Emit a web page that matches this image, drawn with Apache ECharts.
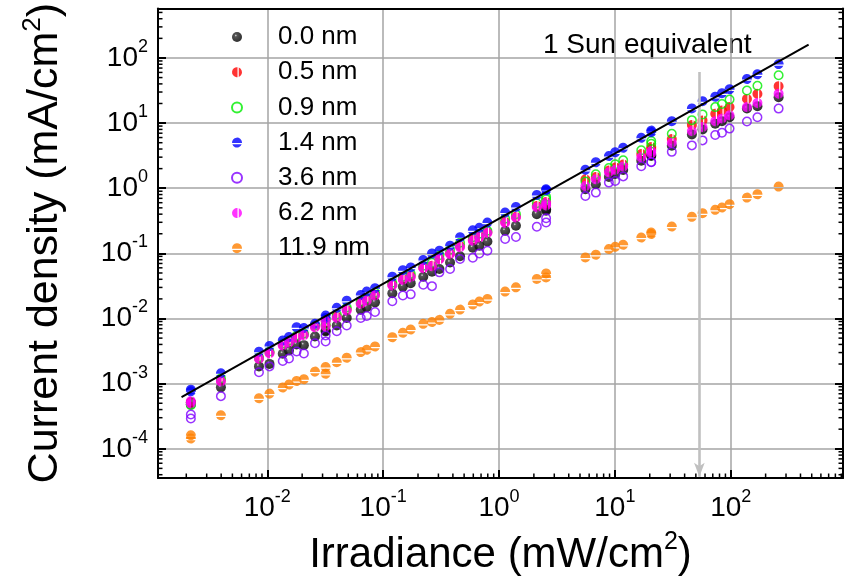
<!DOCTYPE html>
<html><head><meta charset="utf-8">
<script src="https://cdn.jsdelivr.net/npm/echarts@6/dist/echarts.min.js"></script>
<style>html,body{margin:0;padding:0;background:#fff}#c{width:850px;height:585px}</style>
</head><body><div id="c"></div>
<script>
// Irradiance (mW/cm2), shared by all samples
const irradiance = [0.00219, 0.00219, 0.00398, 0.00848, 0.01045, 0.0136, 0.0154, 0.0179, 0.0207, 0.0258,
  0.0319, 0.0319, 0.0398, 0.0485, 0.0641, 0.0722, 0.0851, 0.120, 0.148, 0.173,
  0.222, 0.264, 0.306, 0.378, 0.461, 0.594, 0.677, 0.794, 1.13, 1.40,
  2.12, 2.55, 2.55, 5.57, 6.85, 8.88, 10.07, 11.8, 16.9, 20.6,
  20.6, 31.0, 46.2, 57.1, 73.5, 84.0, 97.7, 138, 170, 259];
// Current density (mA/cm2)
const j00 = [5.17e-4, 4.82e-4, 8.77e-4, 1.84e-3, 2.01e-3, 2.88e-3, 3.24e-3, 3.99e-3, 3.90e-3, 5.30e-3,
  6.55e-3, 6.31e-3, 7.80e-3, 1.02e-2, 1.36e-2, 1.49e-2, 1.77e-2, 2.44e-2, 3.09e-2, 3.49e-2,
  4.39e-2, 5.24e-2, 5.75e-2, 7.26e-2, 9.04e-2, 0.122, 0.131, 0.152, 0.222, 0.265,
  0.400, 0.450, 0.477, 0.965, 1.15, 1.49, 1.66, 1.91, 2.65, 3.12,
  3.24, 4.50, 6.71, 8.00, 9.75, 10.7, 12.3, 16.8, 18.2, 25.0];
const j05 = [5.17e-4, 4.99e-4, 1.12e-3, 2.44e-3, 3.01e-3, 3.99e-3, 4.44e-3, 5.20e-3, 5.68e-3, 7.53e-3,
  9.31e-3, 7.80e-3, 1.07e-2, 1.37e-2, 1.72e-2, 1.95e-2, 2.33e-2, 3.31e-2, 4.02e-2, 4.47e-2,
  6.03e-2, 6.47e-2, 8.27e-2, 0.100, 0.129, 0.162, 0.180, 0.211, 0.305, 0.364,
  0.536, 0.575, 0.617, 1.37, 1.49, 1.87, 2.08, 2.31, 3.35, 4.00,
  4.29, 5.68, 9.31, 11.0, 13.9, 15.6, 17.6, 23.5, 28.1, 36.8];
const j09 = [4.65e-4, 4.82e-4, 1.21e-3, 2.53e-3, 3.12e-3, 4.14e-3, 4.60e-3, 5.48e-3, 5.89e-3, 7.80e-3,
  9.64e-3, 8.09e-3, 1.15e-2, 1.47e-2, 1.82e-2, 2.02e-2, 2.50e-2, 3.55e-2, 4.39e-2, 4.88e-2,
  6.47e-2, 7.19e-2, 9.36e-2, 0.114, 0.146, 0.177, 0.200, 0.222, 0.339, 0.400,
  0.589, 0.679, 0.736, 1.27, 1.64, 2.05, 2.33, 2.69, 3.82, 4.82,
  5.30, 6.85, 11.1, 13.6, 17.6, 19.7, 23.0, 31.6, 37.5, 54.2];
const j14 = [8.09e-4, 7.62e-4, 1.44e-3, 3.09e-3, 3.79e-3, 4.60e-3, 5.20e-3, 7.35e-3, 7.14e-3, 8.28e-3,
  1.11e-2, 1.02e-2, 1.46e-2, 1.88e-2, 2.30e-2, 2.59e-2, 2.92e-2, 4.39e-2, 5.52e-2, 6.09e-2,
  7.91e-2, 9.97e-2, 0.110, 0.131, 0.177, 0.226, 0.247, 0.297, 0.423, 0.517,
  0.789, 0.932, 0.965, 1.92, 2.51, 3.12, 3.57, 4.18, 5.95, 7.27,
  7.67, 10.7, 16.8, 21.7, 25.4, 28.8, 33.1, 47.6, 56.2, 80.5];
const j36 = [3.35e-4, 2.91e-4, 6.43e-4, 1.50e-3, 1.84e-3, 2.22e-3, 2.44e-3, 3.12e-3, 2.91e-3, 4.18e-3,
  5.48e-3, 4.44e-3, 6.38e-3, 7.80e-3, 1.02e-2, 1.09e-2, 1.26e-2, 1.84e-2, 2.25e-2, 2.35e-2,
  3.29e-2, 3.14e-2, 5.11e-2, 5.75e-2, 8.19e-2, 8.57e-2, 9.97e-2, 0.110, 0.166, 0.178,
  0.257, 0.347, 0.297, 0.762, 0.857, 1.22, 1.29, 1.52, 2.17, 2.50,
  2.53, 3.62, 4.55, 5.43, 6.55, 7.10, 8.23, 10.6, 12.3, 16.7];
const j62 = [5.41e-4, 4.94e-4, 1.08e-3, 2.41e-3, 2.91e-3, 3.85e-3, 4.28e-3, 5.02e-3, 5.54e-3, 7.35e-3,
  9.14e-3, 7.53e-3, 1.02e-2, 1.32e-2, 1.68e-2, 1.88e-2, 2.25e-2, 3.20e-2, 3.91e-2, 4.31e-2,
  5.92e-2, 6.35e-2, 8.13e-2, 9.77e-2, 0.124, 0.156, 0.175, 0.206, 0.292, 0.355,
  0.512, 0.545, 0.596, 1.08, 1.37, 1.76, 1.92, 2.16, 2.98, 3.43,
  3.72, 4.99, 7.54, 8.68, 10.7, 11.8, 13.2, 17.6, 20.4, 28.3];
const j119 = [1.61e-4, 1.44e-4, 3.27e-4, 5.96e-4, 7.03e-4, 8.71e-4, 9.68e-4, 1.10e-3, 1.17e-3, 1.53e-3,
  1.80e-3, 1.42e-3, 2.14e-3, 2.50e-3, 3.05e-3, 3.31e-3, 3.72e-3, 5.16e-3, 6.03e-3, 6.78e-3,
  8.28e-3, 8.83e-3, 9.53e-3, 1.18e-2, 1.37e-2, 1.64e-2, 1.82e-2, 2.00e-2, 2.59e-2, 3.01e-2,
  4.05e-2, 4.28e-2, 4.93e-2, 8.67e-2, 9.53e-2, 0.1165, 0.126, 0.1355, 0.175, 0.198,
  0.209, 0.258, 0.364, 0.414, 0.466, 0.505, 0.569, 0.718, 0.809, 1.06];
const seriesNames = ['0.0 nm', '0.5 nm', '0.9 nm', '1.4 nm', '3.6 nm', '6.2 nm', '11.9 nm'];
// linear fit line end points
const fitX = [0.00182, 470];
const fitY = [6.2e-4, 160];
// 1 Sun equivalent marker
const sunX = 53.6;
const sunYTop = 61;
const sunYBottom = 3.72e-5;
const sunLabel = '1 Sun equivalent';
// axis ranges
const X_MIN = 0.00114, X_MAX = 931;
const Y_MIN = 3.56e-5, Y_MAX = 577;

const FONT = 'Liberation Sans, Arial, sans-serif';
const VSLIT = 'path://M11,0.05A10,10 0 1,0 11,19.95Z M13.5,0.64A10,10 0 0,1 13.5,19.36Z';
const HSLIT = 'path://M0.05,11A10,10 0 1,1 19.95,11Z M0.64,13.5A10,10 0 0,0 19.36,13.5Z';
const ball = {type:'radial', x:0.38, y:0.35, r:0.6, colorStops:[
  {offset:0, color:'#d8d8d8'}, {offset:0.22, color:'#2a2a2a'}, {offset:1, color:'#000'}]};

const styles = [
  {data:j00, symbol:'circle', size:10, itemStyle:{color:ball}},
  {data:j05, symbol:VSLIT, size:10, itemStyle:{color:'#ff0000'}},
  {data:j09, symbol:'circle', size:8.5, itemStyle:{color:'rgba(255,255,255,0)', borderColor:'#00ee00', borderWidth:1.5}},
  {data:j14, symbol:HSLIT, size:10, itemStyle:{color:'#0000ff'}},
  {data:j36, symbol:'circle', size:8.5, itemStyle:{color:'rgba(255,255,255,0)', borderColor:'#8000ff', borderWidth:1.5}},
  {data:j62, symbol:VSLIT, size:10, itemStyle:{color:'#ff00ff'}},
  {data:j119, symbol:HSLIT, size:10, itemStyle:{color:'#ff8000'}}
];

function powLabel(v) {
  const e = Math.log10(v); const r = Math.round(e);
  if (Math.abs(e - r) > 1e-6) return '';
  return '{b|10}{s|' + r + '}';
}
const tickRich = {
  b: {fontSize: 28, fontFamily: FONT, color: '#000', lineHeight: 40},
  s: {fontSize: 18, fontFamily: FONT, color: '#000', lineHeight: 18, verticalAlign: 'top'}
};
function minorValues(lo, hi) {
  const out = [];
  for (let e = Math.floor(Math.log10(lo)); e <= Math.ceil(Math.log10(hi)); e++) {
    for (let k = 2; k <= 9; k++) { const v = k * Math.pow(10, e); if (v > lo && v < hi) out.push(v); }
  }
  return out;
}
const xMinor = minorValues(X_MIN, X_MAX);
const yMinor = minorValues(Y_MIN, Y_MAX);

const axisLineStyle = {color: '#000', width: 2};
const series = styles.map((s, i) => ({
  type: 'scatter', name: seriesNames[i], symbol: s.symbol, symbolSize: s.size,
  itemStyle: s.itemStyle, data: irradiance.map((x, k) => [x, s.data[k]]),
  silent: true, z: 3, emphasis: {disabled: true}
}));
series.push({
  type: 'line', name: 'fit', data: fitX.map((x, k) => [x, fitY[k]]), symbol: 'none',
  lineStyle: {color: '#000', width: 2}, z: 5, silent: true,
  markLine: {silent: true, symbol: ['none', 'arrow'], symbolSize: [8, 14],
    lineStyle: {color: '#c0c0c0', width: 2.6, type: 'solid'}, label: {show: false},
    data: [[{coord: [sunX, sunYTop]}, {coord: [sunX, sunYBottom]}]]}
});
series.push({
  type: 'custom', name: 'xminor', silent: true, z: 6, clip: false,
  data: xMinor.map(v => [v, Y_MIN]),
  renderItem: (p, api) => {
    const c = api.coord([api.value(0), Y_MIN]);
    return {type: 'line', shape: {x1: c[0], y1: c[1], x2: c[0], y2: c[1] - 4.5}, style: {stroke: '#000', lineWidth: 1.5}};
  }
});
series.push({
  type: 'custom', name: 'yminor', silent: true, z: 6, clip: false,
  data: yMinor.map(v => [X_MIN, v]),
  renderItem: (p, api) => {
    const a = api.coord([X_MIN, api.value(1)]);
    const b = api.coord([X_MAX, api.value(1)]);
    return {type: 'group', children: [
      {type: 'line', shape: {x1: a[0], y1: a[1], x2: a[0] + 4.5, y2: a[1]}, style: {stroke: '#000', lineWidth: 1.5}},
      {type: 'line', shape: {x1: b[0], y1: b[1], x2: b[0] - 4.5, y2: b[1]}, style: {stroke: '#000', lineWidth: 1.5}}
    ]};
  }
});

const option = {
  animation: false,
  backgroundColor: '#fff',
  grid: {left: 158, right: 7, top: 7, bottom: 107},
  legend: {
    data: seriesNames, orient: 'vertical', left: 226, top: 19, itemWidth: 10, itemHeight: 10, itemGap: 9.2,
    selectedMode: false,
    textStyle: {fontSize: 26, fontFamily: FONT, color: '#000', lineHeight: 26, padding: [0, 0, 0, 31]}
  },
  xAxis: [{
    type: 'log', logBase: 10, min: X_MIN, max: X_MAX, position: 'bottom',
    axisLine: {show: true, onZero: false, lineStyle: axisLineStyle},
    axisTick: {show: true, inside: true, length: 8, lineStyle: {color: '#000', width: 2}},
    splitLine: {show: true, lineStyle: {color: '#a4a4a4', width: 1.5}},
    axisLabel: {formatter: powLabel, rich: tickRich, margin: 10, showMinLabel: true, showMaxLabel: true},
    name: '{a|Irradiance (mW/cm}{s|2}{a|)}', nameLocation: 'middle', nameGap: 52,
    nameTextStyle: {rich: {
      a: {fontSize: 42, fontFamily: FONT, color: '#000', lineHeight: 50},
      s: {fontSize: 25, fontFamily: FONT, color: '#000', lineHeight: 25, verticalAlign: 'top'}}}
  }, {
    type: 'log', logBase: 10, min: X_MIN, max: X_MAX, position: 'top',
    axisLine: {show: true, onZero: false, lineStyle: axisLineStyle},
    axisTick: {show: false}, axisLabel: {show: false}, splitLine: {show: false}
  }],
  yAxis: [{
    type: 'log', logBase: 10, min: Y_MIN, max: Y_MAX, position: 'left',
    axisLine: {show: true, onZero: false, lineStyle: axisLineStyle},
    axisTick: {show: true, inside: true, length: 8, lineStyle: {color: '#000', width: 2}},
    splitLine: {show: true, lineStyle: {color: '#a4a4a4', width: 1.5}},
    axisLabel: {formatter: powLabel, rich: tickRich, margin: 10},
    name: '{a|Current density (mA/cm}{s|2}{a|)}', nameLocation: 'middle', nameGap: 88,
    nameTextStyle: {rich: {
      a: {fontSize: 43, fontFamily: FONT, color: '#000', lineHeight: 50},
      s: {fontSize: 26, fontFamily: FONT, color: '#000', lineHeight: 26, verticalAlign: 'top'}}}
  }, {
    type: 'log', logBase: 10, min: Y_MIN, max: Y_MAX, position: 'right',
    axisLine: {show: true, onZero: false, lineStyle: axisLineStyle},
    axisTick: {show: true, inside: true, length: 8, lineStyle: {color: '#000', width: 2}},
    axisLabel: {show: false}, splitLine: {show: false}
  }],
  graphic: [{type: 'text', left: 543, top: 31, silent: true,
    style: {text: sunLabel, fontSize: 28, fontFamily: FONT, fill: '#000'}}],
  series: series
};
const chart = echarts.init(document.getElementById('c'), null, {renderer: 'canvas'});
chart.setOption(option);
</script></body></html>
